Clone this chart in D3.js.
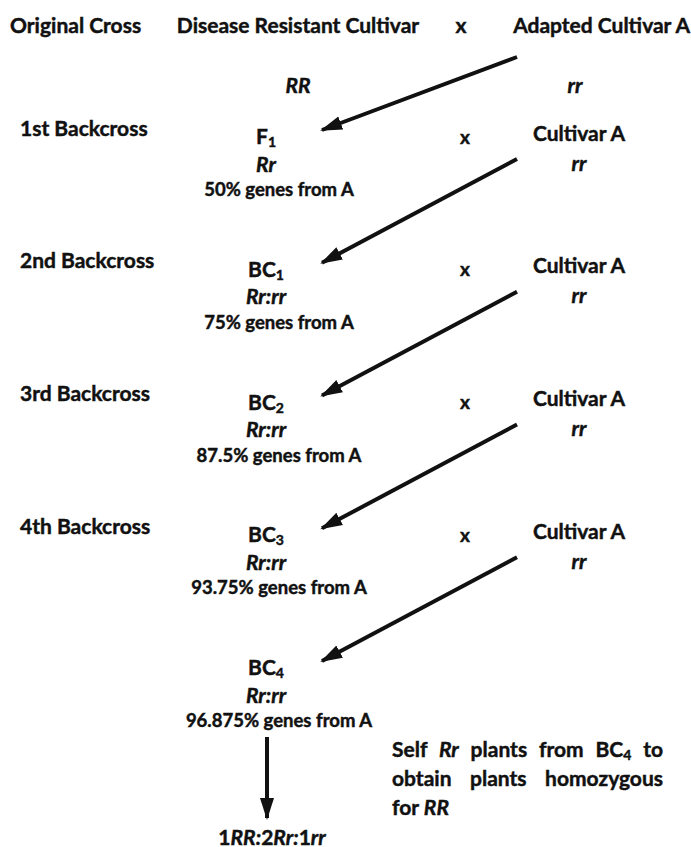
<!DOCTYPE html>
<html>
<head>
<meta charset="utf-8">
<script src="https://cdn.jsdelivr.net/npm/d3@7"></script>
<style>
body { margin: 0; background: #fff; }
text { font-family: Lato, 'Open Sans', sans-serif; font-weight: 700; fill: #111; stroke: #111; stroke-width: 0.45px; }
</style>
</head>
<body>
<div id="chart-area"></div>
<script>
var width = 691;
var height = 847;

// diagram content
var parents = ['Disease Resistant Cultivar', 'Adapted Cultivar A'];
var parentGenotypes = ['RR', 'rr'];
var stepLabels = ['1st Backcross', '2nd Backcross', '3rd Backcross', '4th Backcross'];
var genBase = ['F', 'BC', 'BC', 'BC', 'BC'];
var genSub = ['1', '1', '2', '3', '4'];
var genotypes = ['Rr', 'Rr:rr', 'Rr:rr', 'Rr:rr', 'Rr:rr'];
var percentFromA = [50, 75, 87.5, 93.75, 96.875];
var recurrentParent = 'Cultivar A';
var recurrentGenotype = 'rr';
var finalRatio = [{ n: '1', g: 'RR' }, { n: '2', g: 'Rr' }, { n: '1', g: 'rr' }];

var fs = '21px';

var svg = d3.select('#chart-area')
	.append('svg')
	.attr('width', width)
	.attr('height', height);

svg.append('defs').append('marker')
	.attr('id', 'head')
	.attr('markerUnits', 'userSpaceOnUse')
	.attr('viewBox', '0 -8 22 16')
	.attr('refX', 20)
	.attr('refY', 0)
	.attr('markerWidth', 22)
	.attr('markerHeight', 16)
	.attr('orient', 'auto')
	.append('path')
	.attr('d', 'M0,-7L22,0L0,7Z')
	.attr('fill', '#111');

// rows of the generations, columns of the table
var y = d3.scaleLinear()
	.domain([0, genBase.length - 1])
	.range([135, 666]);
var x = d3.scaleOrdinal()
	.domain(['step', 'gen', 'cross', 'parent'])
	.range([20, 266, 465, 579]);

// header: original cross
var header = svg.append('g').attr('font-size', fs);
header.append('text')
	.attr('x', 10).attr('y', 24)
	.attr('dominant-baseline', 'central')
	.text('Original Cross');
header.append('text')
	.attr('x', 298).attr('y', 24)
	.attr('text-anchor', 'middle')
	.attr('dominant-baseline', 'central')
	.text(parents[0]);
header.append('text')
	.attr('x', 461).attr('y', 24)
	.attr('text-anchor', 'middle')
	.attr('dominant-baseline', 'central')
	.text('x');
header.append('text')
	.attr('x', 690).attr('y', 24)
	.attr('text-anchor', 'end')
	.attr('dominant-baseline', 'central')
	.text(parents[1]);
header.selectAll('.pg')
	.data(parentGenotypes)
	.enter().append('text')
	.attr('class', 'pg')
	.attr('x', (d, i) => i == 0 ? 298 : 575)
	.attr('y', 84)
	.attr('text-anchor', 'middle')
	.attr('dominant-baseline', 'central')
	.attr('font-style', 'italic')
	.text(d => d);

// backcross step labels
svg.selectAll('.step')
	.data(stepLabels)
	.enter().append('text')
	.attr('class', 'step')
	.attr('x', x('step'))
	.attr('y', (d, i) => y(i) - 8)
	.attr('dominant-baseline', 'central')
	.attr('font-size', fs)
	.text(d => d);

// generation names with subscripts
var gen = svg.selectAll('.gen')
	.data(genBase)
	.enter().append('text')
	.attr('class', 'gen')
	.attr('x', x('gen'))
	.attr('y', (d, i) => y(i))
	.attr('text-anchor', 'middle')
	.attr('dominant-baseline', 'central')
	.attr('font-size', fs);
gen.append('tspan').text(d => d);
gen.append('tspan')
	.attr('dy', 6)
	.attr('font-size', '14px')
	.text((d, i) => genSub[i]);

svg.selectAll('.geno')
	.data(genotypes)
	.enter().append('text')
	.attr('class', 'geno')
	.attr('x', x('gen'))
	.attr('y', (d, i) => y(i) + 28)
	.attr('text-anchor', 'middle')
	.attr('dominant-baseline', 'central')
	.attr('font-size', fs)
	.attr('font-style', 'italic')
	.text(d => d);

svg.selectAll('.pct')
	.data(percentFromA)
	.enter().append('text')
	.attr('class', 'pct')
	.attr('x', x('gen') + 13)
	.attr('y', (d, i) => y(i) + 54)
	.attr('text-anchor', 'middle')
	.attr('dominant-baseline', 'central')
	.attr('font-size', '18.5px')
	.text(d => d + '% genes from A');

// recurrent parent on each backcross row
var backRows = d3.range(stepLabels.length);
svg.selectAll('.cross')
	.data(backRows)
	.enter().append('text')
	.attr('class', 'cross')
	.attr('x', x('cross'))
	.attr('y', i => y(i) + 1)
	.attr('text-anchor', 'middle')
	.attr('dominant-baseline', 'central')
	.attr('font-size', '19px')
	.text('x');
svg.selectAll('.rp')
	.data(backRows)
	.enter().append('text')
	.attr('class', 'rp')
	.attr('x', x('parent'))
	.attr('y', i => y(i) - 3)
	.attr('text-anchor', 'middle')
	.attr('dominant-baseline', 'central')
	.attr('font-size', fs)
	.text(recurrentParent);
svg.selectAll('.rg')
	.data(backRows)
	.enter().append('text')
	.attr('class', 'rg')
	.attr('x', x('parent'))
	.attr('y', i => y(i) + 27)
	.attr('text-anchor', 'middle')
	.attr('dominant-baseline', 'central')
	.attr('font-size', fs)
	.attr('font-style', 'italic')
	.text(recurrentGenotype);

// diagonal arrows: recurrent parent -> next generation
svg.selectAll('.arrow')
	.data(genBase)
	.enter().append('line')
	.attr('class', 'arrow')
	.attr('x1', 517)
	.attr('y1', (d, i) => i == 0 ? 57 : y(i - 1) + 24)
	.attr('x2', 322)
	.attr('y2', (d, i) => y(i) - 5)
	.attr('stroke', '#111')
	.attr('stroke-width', 4)
	.attr('marker-end', 'url(#head)');

// selfing step
var last = genBase.length - 1;
svg.append('line')
	.attr('x1', x('gen') + 1).attr('y1', y(last) + 71)
	.attr('x2', x('gen') + 1).attr('y2', y(last) + 152)
	.attr('stroke', '#111')
	.attr('stroke-width', 4)
	.attr('marker-end', 'url(#head)');

var ratio = svg.append('text')
	.attr('x', x('gen') + 6)
	.attr('y', y(last) + 170)
	.attr('text-anchor', 'middle')
	.attr('dominant-baseline', 'central')
	.attr('font-size', fs);
finalRatio.forEach((r, i) => {
	ratio.append('tspan').text(r.n);
	ratio.append('tspan').attr('font-style', 'italic').text(r.g + (i < finalRatio.length - 1 ? ':' : ''));
});

// note, justified between two edges
var note = svg.append('g').attr('font-size', fs);
var noteLines = [
	[['Self ', ''], ['Rr', 'i'], [' plants from BC', ''], ['4', 's'], [' to', 'r']],
	[['obtain plants homozygous', '']],
	[['for ', ''], ['RR', 'i']]
];
noteLines.forEach((parts, li) => {
	var t = note.append('text')
		.attr('x', 392)
		.attr('y', y(last) + 82 + li * 29)
		.attr('dominant-baseline', 'central');
	parts.forEach(p => {
		var s = t.append('tspan').text(p[0]);
		if (p[1] == 'i') s.attr('font-style', 'italic');
		if (p[1] == 's') s.attr('font-size', '14px').attr('dy', 6);
		if (p[1] == 'r') s.attr('dy', -6);
	});
	if (li < 2) {
		var text = parts.map(p => p[0]).join('');
		var gaps = text.split(' ').length - 1;
		var extra = (663 - 392 - t.node().getComputedTextLength()) / gaps;
		t.attr('word-spacing', extra);
	}
});
</script>
</body>
</html>
